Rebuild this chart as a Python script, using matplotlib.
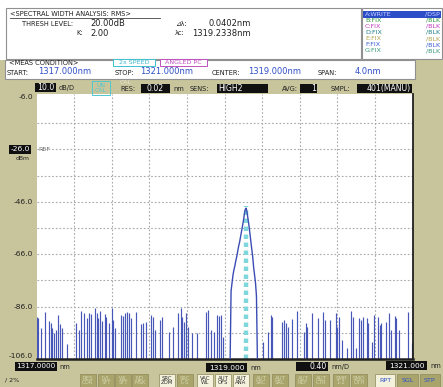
import matplotlib
matplotlib.use("Agg")
import matplotlib.pyplot as plt
from matplotlib.patches import Rectangle

# ---- trace data (wavelength nm, level dBm) ----
noise_wl = [1317.01, 1317.016, 1317.051, 1317.094, 1317.133, 1317.151, 1317.168, 1317.183,
            1317.211, 1317.232, 1317.253, 1317.275, 1317.321, 1317.424, 1317.452, 1317.477,
            1317.505, 1317.540, 1317.559, 1317.580, 1317.622, 1317.640, 1317.657, 1317.672,
            1317.700, 1317.729, 1317.743, 1317.771, 1317.800, 1317.817, 1317.832, 1317.899,
            1317.920, 1317.941, 1317.966, 1317.984, 1318.009, 1318.055, 1318.115, 1318.133,
            1318.168, 1318.215, 1318.239, 1318.261, 1318.311, 1318.332, 1318.410, 1318.452,
            1318.509, 1318.534, 1318.551, 1318.569, 1318.587, 1318.615, 1318.657, 1318.711,
            1318.800, 1318.828, 1318.856, 1318.888, 1318.923, 1318.941, 1318.963, 1318.984,
            1319.413, 1319.466, 1319.491, 1319.509, 1319.608, 1319.630, 1319.651, 1319.676,
            1319.715, 1319.775, 1319.846, 1319.864, 1319.881, 1319.934, 1319.995, 1320.051,
            1320.069, 1320.119, 1320.183, 1320.200, 1320.218, 1320.253, 1320.306, 1320.349,
            1320.367, 1320.396, 1320.431, 1320.449, 1320.473, 1320.519, 1320.530, 1320.566,
            1320.590, 1320.636, 1320.651, 1320.662, 1320.715, 1320.750, 1320.768, 1320.814,
            1320.828, 1320.856, 1320.952, 1320.992]
noise_dbm = [-89.8, -90.5, -94.3, -88.2, -91.4, -92.1, -94.3, -96.2,
             -94.9, -89.3, -92.6, -94.3, -100.4, -92.1, -94.9, -87.7,
             -88.6, -90.5, -88.3, -88.9, -86.7, -88.3, -90.5, -87.7,
             -91.4, -88.8, -89.8, -92.1, -86.7, -91.1, -94.3, -89.2,
             -89.6, -88.3, -87.9, -88.3, -90.5, -87.9, -92.6, -92.3,
             -91.7, -89.2, -89.8, -94.9, -91.1, -89.8, -95.6, -93.9,
             -88.6, -86.7, -89.8, -91.7, -88.6, -93.7, -96.2, -96.2,
             -87.9, -87.3, -94.9, -95.6, -89.2, -89.6, -89.2, -97.5,
             -99.4, -95.6, -89.2, -89.8, -91.7, -91.1, -92.3, -93.7,
             -90.7, -87.6, -95.6, -92.3, -93.7, -88.6, -90.5, -88.2,
             -91.1, -91.1, -88.6, -93.7, -89.8, -98.7, -101.9, -87.6,
             -89.8, -101.9, -90.5, -91.1, -89.8, -90.5, -92.3, -99.4,
             -89.2, -89.8, -93.0, -92.3, -91.7, -88.3, -94.9, -89.5,
             -90.5, -94.9, -87.9, -100.0]

peak_wl = [1319.06, 1319.07, 1319.08, 1319.09, 1319.10, 1319.11, 1319.12, 1319.13, 1319.14,
           1319.15, 1319.16, 1319.17, 1319.18, 1319.19, 1319.20, 1319.21, 1319.22, 1319.23,
           1319.24, 1319.25, 1319.26, 1319.27, 1319.28, 1319.29, 1319.30, 1319.31, 1319.32,
           1319.33, 1319.34, 1319.35]
peak_dbm = [-106, -80, -77, -74, -72, -70.5, -68.5, -67, -65,
            -63, -61.5, -59.5, -57.5, -55.5, -53.5, -51, -49, -48.4,
            -50, -52.5, -55, -58, -61, -64, -67, -71, -74,
            -77, -82, -106]

lambda_c = 1319.2338
y_labels = [-6.0, -46.0, -66.0, -86.0, -106.0]
ref_level = -26.0

trace_list = [("A:WRITE", "/DSP", "#c8d4ff"), ("B:FIX", "/BLK", "#2f9a3c"),
              ("C:FIX", "/BLK", "#c03cc0"), ("D:FIX", "/BLK", "#1f7f86"),
              ("E:FIX", "/BLK", "#b0a650"), ("F:FIX", "/BLK", "#3a5fd0"),
              ("G:FIX", "/BLK", "#3a9a78")]

buttons = [("RES\nCOR", 80, 0), ("LVL\nSFT", 98, 0), ("WL\nSFT", 115, 0), ("NO\nMSK", 132, 0),
           ("SRC\nZOM", 159, 1), ("SRC\nL-S", 177, 0), ("VAC\nWL", 197, 1), ("AUT\nOFS", 215, 1),
           ("AUT\nANA", 233, 1), ("AUT\nSRC", 253, 0), ("AUT\nSRL", 272, 0), ("AUT\nREF", 295, 0),
           ("AUT\nCTR", 313, 0), ("SMP\n1-2", 333, 0), ("SMO\nOTH", 351, 0)]

W, H = 443, 387
KHAKI = "#c8c59c"
FONT = ["DejaVu Sans"]

fig = plt.figure(figsize=(W / 100, H / 100), dpi=100)
fig.patch.set_facecolor(KHAKI)


def rect(x0, y0, x1, y1, fc, ec="none", lw=0.8, z=1):
    fig.add_artist(Rectangle((x0 / W, 1 - y1 / H), (x1 - x0) / W, (y1 - y0) / H,
                             transform=fig.transFigure, facecolor=fc, edgecolor=ec,
                             linewidth=lw, zorder=z))


def txt(x, y, s, size=4.8, color="#202020", ha="left", va="center", z=3, **kw):
    fig.text(x / W, 1 - y / H, s, fontsize=size, color=color, ha=ha, va=va,
             family=FONT, zorder=z, **kw)


def inv(x0, y0, x1, y1, s, size=5.6, ha="center"):
    rect(x0, y0, x1, y1, "#101010", z=2)
    if ha == "center":
        txt((x0 + x1) / 2, (y0 + y1) / 2, s, size=size, color="white", ha="center")
    elif ha == "right":
        txt(x1 - 1, (y0 + y1) / 2, s, size=size, color="white", ha="right")
    else:
        txt(x0 + 1, (y0 + y1) / 2, s, size=size, color="white")


BIG = 6.0

# ---- top analysis panel ----
rect(0, 0, W, 60, "white", z=0.5)
rect(6, 8, 361, 59, "white", ec="#909090", z=1)
rect(362, 8, 442, 59, "white", ec="#909090", z=1)
txt(10, 14, "<SPECTRAL WIDTH ANALYSIS: RMS>", size=4.8)
fig.add_artist(plt.Line2D([10 / W, 160 / W], [1 - 17.5 / H] * 2, color="#404040", lw=0.6,
                          transform=fig.transFigure))
txt(22, 24, "THRESH LEVEL:")
txt(90, 24, "20.00dB", size=BIG)
txt(83, 33, "K:", ha="right")
txt(90, 33, "2.00", size=BIG)
txt(175, 24, "\u22bf\u03bb:")
txt(251, 24, "0.0402nm", size=BIG, ha="right")
txt(175, 33, "\u03bbc:")
txt(251, 33, "1319.2338nm", size=BIG, ha="right")

rect(363, 11, 441, 17.5, "#2c4cc8", z=1.5)
for i, (a, b, c) in enumerate(trace_list):
    yy = 14.2 + i * 6.1
    txt(365, yy, a, size=4.6, color=c)
    txt(440, yy, b, size=4.6, color=c, ha="right")

# ---- measurement condition panel ----
rect(5, 60, 415, 79, "white", ec="#909090", z=1)
txt(9, 63, "<MEAS CONDITION>")
rect(113, 58.5, 155, 65.5, "white", ec="#40c0d0", lw=0.7, z=1.5)
txt(134, 62, "2x SPEED", size=4.6, color="#40b8cc", ha="center")
rect(160, 58.5, 207, 65.5, "white", ec="#c050c0", lw=0.7, z=1.5)
txt(183.5, 62, "ANGLED PC", size=4.6, color="#c050c0", ha="center")
txt(7, 73, "START:")
txt(38, 72, "1317.000nm", size=BIG, color="#3050c8")
txt(115, 73, "STOP:")
txt(140, 72, "1321.000nm", size=BIG, color="#3050c8")
txt(212, 73, "CENTER:")
txt(248, 72, "1319.000nm", size=BIG, color="#3050c8")
txt(318, 73, "SPAN:")
txt(355, 72, "4.0nm", size=BIG, color="#3050c8")

# ---- header row above the plot ----
inv(35, 83, 56, 92, "10.0")
txt(59, 88, "dB/D")
rect(92, 81, 110, 95, "none", ec="#50c8d0", lw=0.7, z=1.5)
txt(101, 88, "UN\nCAL", size=4.4, color="#50c8d0", ha="center", linespacing=0.9)
txt(126, 82, "CAL", size=4.4, color="#e8e6d0", ha="center")
txt(120, 89, "RES:")
inv(141, 84, 170, 93, "0.02")
txt(173, 89, "nm")
txt(190, 89, "SENS:")
inv(217, 84, 268, 93, "HIGH2", ha="left")
txt(282, 89, "AVG:")
inv(300, 84, 317, 93, "1", ha="right")
txt(331, 89, "SMPL:")
inv(357, 84, 412, 93, "401(MANU)", ha="right")

# ---- spectrum ----
ax = fig.add_axes([36.5 / W, 1 - 359 / H, 376 / W, 265 / H])
ax.set_facecolor("white")
ax.set_xlim(1317, 1321)
ax.set_ylim(-106, -4.85)
for i in range(1, 10):
    ax.axvline(1317 + 0.4 * i, color="#a8a8a8", lw=0.8, ls=(0, (1.5, 1.8)), zorder=0)
for v in range(-16, -100, -10):
    ax.axhline(v, color="#a8a8a8", lw=0.8, ls=(0, (1.5, 1.8)), zorder=0)

ax.vlines(noise_wl, -106, noise_dbm, color="#4657b8", lw=0.85, zorder=2)
ax.plot(peak_wl, peak_dbm, color="#3a4cb4", lw=1.0, zorder=3)
ax.plot([lambda_c, lambda_c], [-106, -47.5], color="#7fd6dc", lw=3.2,
        ls=(0, (1.0, 0.8)), zorder=2.5, solid_capstyle="butt")

ax.set_xticks([])
ax.set_yticks([])
ax.spines["left"].set_visible(False)
ax.spines["top"].set_visible(False)
ax.spines["right"].set_color("#202020")
ax.spines["right"].set_linewidth(1.3)
ax.spines["bottom"].set_color("#202020")
ax.spines["bottom"].set_linewidth(1.8)

yt = ax.get_yaxis_transform()
for v in y_labels:
    yy = v + 1.2 if v == -106.0 else v
    ax.text(-0.009, yy, f"{v:.1f}", transform=yt, ha="right", va="center", fontsize=5.4,
            family=FONT, color="#202020", clip_on=False)
ax.text(-0.018, ref_level, f"{ref_level:.1f}", transform=yt, ha="right", va="center",
        fontsize=5.4, family=FONT, color="white", clip_on=False,
        bbox=dict(boxstyle="square,pad=0.15", fc="#101010", ec="none"))
ax.text(-0.018, ref_level - 3.4, "dBm", transform=yt, ha="right", va="center",
        fontsize=4.4, family=FONT, color="#202020", clip_on=False)
ax.text(0.006, ref_level, "REF", transform=yt, ha="left", va="center", fontsize=4.6,
        family=FONT, color="#707070")

# ---- x scale labels ----
inv(15, 362, 57, 371, "1317.0000", size=5.2)
txt(59, 367, "nm")
inv(206, 363, 247, 372, "1319.000", size=5.4)
txt(250, 368, "nm")
inv(296, 362, 328, 371, "0.40", ha="right")
txt(331, 367, "nm/D")
inv(386, 361, 427, 370, "1321.000", size=5.4)
txt(430, 366, "nm")
txt(5, 380, "/ 2%", size=4.6)

# ---- soft keys ----
for label, x0, on in buttons:
    fc = "#f4f2dc" if on else "#a8a46c"
    tc = "#303030" if on else "#d8d6b0"
    rect(x0, 374, x0 + 16, 387, fc, ec="#8c8858", lw=0.5, z=1.5)
    txt(x0 + 8, 380.5, label, size=3.9, color=tc, ha="center", linespacing=0.85)
for label, x0, x1, fc in [("RPT", 375, 395, "#f4f2dc"), ("SGL", 397, 418, "#a8a46c"),
                          ("STP", 420, 440, "#a8a46c")]:
    rect(x0, 374, x1, 387, fc, ec="#8c8858", lw=0.5, z=1.5)
    txt((x0 + x1) / 2, 380.5, label, size=4.6, color="#3050c8", ha="center")

fig.savefig("out.png", dpi=100, facecolor=fig.get_facecolor())
